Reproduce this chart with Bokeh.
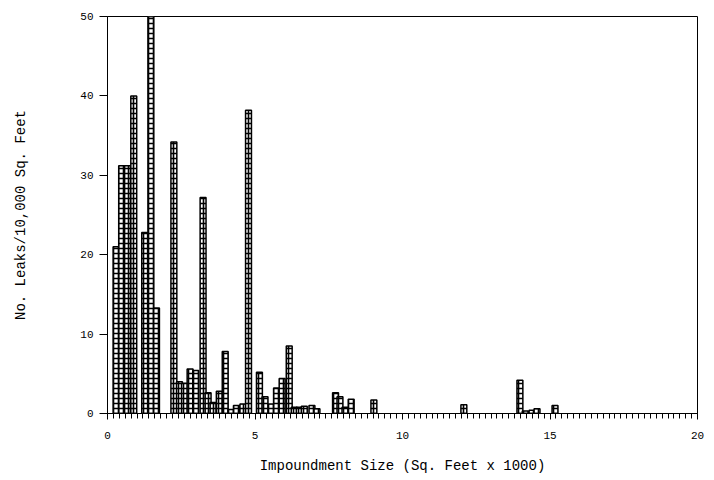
from bokeh.plotting import figure
from bokeh.models import ColumnDataSource, FixedTicker, Range1d
from bokeh.embed import file_html
from bokeh.resources import INLINE

# Impoundment size (thousand sq. ft) – bar centres
sizes = [0.29, 0.48, 0.68, 0.89, 1.26, 1.47, 1.66, 2.25, 2.44, 2.61, 2.80, 2.99,
         3.24, 3.41, 3.58, 3.79, 3.99, 4.18, 4.37, 4.59, 4.78, 5.15, 5.34, 5.55,
         5.73, 5.92, 6.16, 6.33, 6.50, 6.67, 6.93, 7.10, 7.73, 7.88, 8.05, 8.26,
         9.03, 12.08, 13.98, 14.16, 14.39, 14.56, 15.17]
# Number of leaks per 10,000 sq. ft
leaks = [21.0, 31.2, 31.2, 40.0, 22.8, 51.0, 13.3, 34.2, 4.0, 3.8, 5.6, 5.4,
         27.2, 2.6, 1.4, 2.8, 7.8, 0.5, 1.0, 1.2, 38.2, 5.2, 2.1, 1.2,
         3.2, 4.4, 8.5, 0.8, 0.8, 0.9, 1.0, 0.6, 2.6, 2.1, 0.8, 1.8,
         1.7, 1.1, 4.2, 0.3, 0.4, 0.6, 1.0]

x_major = [0, 5, 10, 15, 20]
y_major = [0, 10, 20, 30, 40, 50]
x_minor = [i * 0.2 for i in range(101)]

source = ColumnDataSource(data=dict(x=sizes, top=leaks))

FONT = "Liberation Mono"

p = figure(width=706, height=476, output_backend="svg", toolbar_location=None,
           x_range=Range1d(0, 20), y_range=Range1d(0, 50),
           min_border_left=107, min_border_right=9, min_border_top=16,
           min_border_bottom=61)

p.vbar(x="x", top="top", bottom=0, width=0.2, source=source,
       fill_color="white", line_color="black", line_width=1.5,
       hatch_pattern="cross", hatch_color="black", hatch_scale=5,
       hatch_weight=1.6)

p.xgrid.visible = False
p.ygrid.visible = False
p.outline_line_color = "black"
p.outline_line_width = 1
p.background_fill_color = "white"
p.border_fill_color = "white"

p.xaxis.ticker = FixedTicker(ticks=x_major, minor_ticks=x_minor)
p.yaxis.ticker = FixedTicker(ticks=y_major)
p.yaxis.minor_tick_line_color = None

for ax in (p.xaxis[0], p.yaxis[0]):
    ax.axis_line_color = "black"
    ax.major_tick_line_color = "black"
    ax.major_label_text_font = FONT
    ax.major_label_text_font_size = "11px"
    ax.major_label_text_color = "black"
    ax.axis_label_text_font = FONT
    ax.axis_label_text_font_size = "14px"
    ax.axis_label_text_font_style = "normal"
    ax.axis_label_text_color = "black"

p.xaxis.major_tick_in = 0
p.xaxis.major_tick_out = 6
p.xaxis.minor_tick_in = 0
p.xaxis.minor_tick_out = 5
p.xaxis.minor_tick_line_color = "black"
p.xaxis.major_label_standoff = 12
p.xaxis.axis_label = "Impoundment Size (Sq. Feet x 1000)"
p.xaxis.axis_label_standoff = 16

p.yaxis.major_tick_in = 0
p.yaxis.major_tick_out = 8
p.yaxis.major_label_standoff = 6
p.yaxis.axis_label = "No. Leaks/10,000 Sq. Feet"
p.yaxis.axis_label_standoff = 48

open("out.html", "w").write(file_html(p, INLINE))
